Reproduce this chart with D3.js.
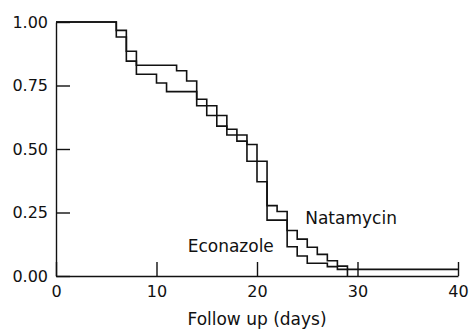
<!DOCTYPE html>
<html>
<head>
<script src="https://d3js.org/d3.v7.min.js"></script>
<style>
  body { margin: 0; background: #fff; }
  text { font-family: "DejaVu Sans", sans-serif; fill: #111; }
</style>
</head>
<body>
<svg width=469 height=330></svg>
<script>
// Kaplan-Meier steps: day of event and survival after it
const natDays = [0, 6, 7, 8, 12, 13, 14, 15, 17, 19, 21, 22, 23, 24, 25, 26, 27, 28, 29];
const natSurv = [1.00, 0.967, 0.885, 0.830, 0.808, 0.768, 0.696, 0.632, 0.555, 0.452, 0.277, 0.254, 0.179, 0.145, 0.113, 0.085, 0.060, 0.039, 0.026];
const natEnd = 40;

const ecoDays = [0, 6, 7, 8, 10, 11, 14, 16, 17, 18, 19, 20, 21, 23, 24, 25, 27, 28, 29];
const ecoSurv = [1.00, 0.941, 0.846, 0.794, 0.760, 0.726, 0.670, 0.590, 0.578, 0.531, 0.518, 0.371, 0.220, 0.115, 0.079, 0.050, 0.037, 0.026, 0];
const ecoEnd = 29;

const xTicks = [0, 10, 20, 30, 40];
const yTicks = [0, 0.25, 0.5, 0.75, 1];

const mLeft = 56, mRight = 458, mTop = 22, mBottom = 276;

const svg = d3.select("svg");
const x = d3.scaleLinear().domain([0, 40]).range([mLeft, mRight]);
const y = d3.scaleLinear().domain([0, 1]).range([mBottom, mTop]);

function stepData(days, surv, end) {
  var pts = days.map((d, i) => ({day: d, s: surv[i]}));
  pts.push({day: end, s: surv[surv.length - 1]});
  return pts;
}

var line = d3.line().curve(d3.curveStepAfter).x(d => x(d.day)).y(d => y(d.s));

// axes, ticks point inward
var xAxis = svg.append("g")
  .attr("transform", `translate(0,${mBottom})`)
  .call(d3.axisBottom(x).tickValues(xTicks).tickSizeInner(-14).tickSizeOuter(0).tickPadding(10));
var yAxis = svg.append("g")
  .attr("transform", `translate(${mLeft},0)`)
  .call(d3.axisLeft(y).tickValues(yTicks).tickFormat(d3.format(".2f")).tickSizeInner(-14).tickSizeOuter(0).tickPadding(8));

[xAxis, yAxis].forEach(a => {
  a.selectAll("path, line").attr("stroke", "#111").attr("stroke-width", 1.4);
  a.selectAll("text").style("font-size", "16px").attr("fill", "#111");
  a.attr("font-family", null);
});

[stepData(natDays, natSurv, natEnd), stepData(ecoDays, ecoSurv, ecoEnd)].forEach(pts => {
  svg.append("path")
    .datum(pts)
    .attr("d", line)
    .attr("fill", "none")
    .attr("stroke", "#111")
    .attr("stroke-width", 1.6);
});

svg.append("text")
  .attr("x", x(24.8))
  .attr("y", 224)
  .style("font-size", "17px")
  .text("Natamycin");

svg.append("text")
  .attr("x", x(13.1))
  .attr("y", 251.5)
  .style("font-size", "17px")
  .text("Econazole");

svg.append("text")
  .attr("x", (mLeft + mRight) / 2)
  .attr("y", 325)
  .attr("text-anchor", "middle")
  .style("font-size", "17px")
  .text("Follow up (days)");
</script>
</body>
</html>
